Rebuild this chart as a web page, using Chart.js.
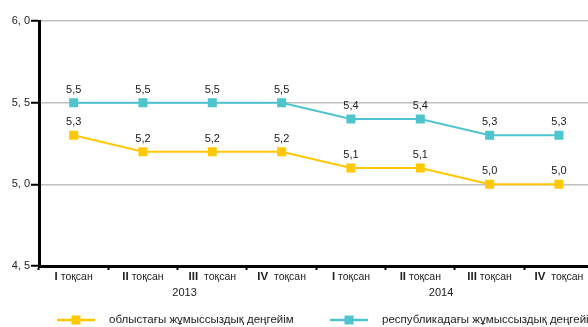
<!DOCTYPE html>
<html>
<head>
<meta charset="utf-8">
<script src="https://cdn.jsdelivr.net/npm/chart.js@4/dist/chart.umd.min.js"></script>
<style>
  html, body { margin: 0; padding: 0; background: #fff; }
  /* the plot runs a little past the right edge of the frame */
  #wrap { width: 588px; height: 327px; position: relative; overflow: hidden; }
  #c { display: block; }
</style>
</head>
<body>
<div id="wrap"><canvas id="c" width="600" height="327"></canvas></div>
<script>
// Quarters (roman numeral + word) and the year each block of four belongs to
const quarters = ['I тоқсан', 'II тоқсан', 'III  тоқсан', 'IV  тоқсан', 'I тоқсан', 'II тоқсан', 'III тоқсан', 'IV  тоқсан'];
const years = ['2013', '2014'];

// Unemployment rate, %
const regionRate = [5.3, 5.2, 5.2, 5.2, 5.1, 5.1, 5.0, 5.0];
const republicRate = [5.5, 5.5, 5.5, 5.5, 5.4, 5.4, 5.3, 5.3];

const seriesNames = ['облыстағы жұмыссыздық деңгейім', 'республикадағы жұмыссыздық деңгейі'];
const yTicks = [4.5, 5.0, 5.5, 6.0];

const YELLOW = '#FFC800';
const TEAL = '#4FC4CF';
const FONT = '"Liberation Sans", Arial, sans-serif';
const TEXT = '#222';

const fmt = v => v.toFixed(1).replace('.', ',');

// Value labels above each marker
const valueLabels = {
  id: 'valueLabels',
  afterDatasetsDraw(chart) {
    const ctx = chart.ctx;
    ctx.save();
    ctx.font = '11px ' + FONT;
    ctx.fillStyle = TEXT;
    ctx.textAlign = 'center';
    ctx.textBaseline = 'middle';
    chart.data.datasets.forEach((ds, i) => {
      chart.getDatasetMeta(i).data.forEach((pt, j) => {
        ctx.fillText(fmt(ds.data[j]), pt.x, pt.y - 13);
      });
    });
    ctx.restore();
  }
};

// Quarter labels with bold roman numerals, year labels and the legend
const bottomText = {
  id: 'bottomText',
  afterDraw(chart) {
    const ctx = chart.ctx;
    const xs = chart.scales.x;
    ctx.save();
    ctx.fillStyle = TEXT;
    ctx.textBaseline = 'middle';
    ctx.textAlign = 'left';
    const boldFont = 'bold 11.5px ' + FONT;
    const normFont = '10.5px ' + FONT;
    quarters.forEach((q, i) => {
      const k = q.indexOf(' ');
      const num = q.slice(0, k);
      const rest = q.slice(k);
      ctx.font = boldFont;
      const w1 = ctx.measureText(num).width;
      ctx.font = normFont;
      const w2 = ctx.measureText(rest).width;
      const cx = xs.getPixelForTick(i);
      const x0 = cx - (w1 + w2) / 2;
      ctx.font = boldFont;
      ctx.fillText(num, x0, xs.top + 11);
      ctx.font = normFont;
      ctx.fillText(rest, x0 + w1, xs.top + 11);
    });

    // years, under their groups of four quarters
    const yearPos = [1.6, 5.3];
    ctx.font = '11px ' + FONT;
    ctx.textAlign = 'center';
    years.forEach((y, i) => {
      ctx.fillText(y, xs.getPixelForValue(yearPos[i]), xs.top + 27);
    });

    // legend
    const items = [
      { color: YELLOW, x: 57, text: seriesNames[0] },
      { color: TEAL, x: 330, text: seriesNames[1] }
    ];
    const ly = 320;
    ctx.font = '11.5px ' + FONT;
    ctx.textAlign = 'left';
    items.forEach(it => {
      ctx.strokeStyle = it.color;
      ctx.lineWidth = 2.5;
      ctx.beginPath();
      ctx.moveTo(it.x, ly);
      ctx.lineTo(it.x + 38, ly);
      ctx.stroke();
      ctx.fillStyle = it.color;
      ctx.fillRect(it.x + 19 - 4.5, ly - 4.5, 9, 9);
      ctx.fillStyle = TEXT;
      ctx.fillText(it.text, it.x + 52, ly);
    });
    ctx.restore();
  }
};

new Chart(document.getElementById('c'), {
  type: 'line',
  data: {
    labels: quarters,
    datasets: [
      {
        label: seriesNames[0],
        data: regionRate,
        borderColor: YELLOW,
        backgroundColor: YELLOW,
        borderWidth: 2,
        pointStyle: 'rect',
        pointRadius: 6.4,
        pointHoverRadius: 6.4,
        pointBorderWidth: 0,
        tension: 0
      },
      {
        label: seriesNames[1],
        data: republicRate,
        borderColor: TEAL,
        backgroundColor: TEAL,
        borderWidth: 2,
        pointStyle: 'rect',
        pointRadius: 6.4,
        pointHoverRadius: 6.4,
        pointBorderWidth: 0,
        tension: 0
      }
    ]
  },
  options: {
    responsive: false,
    animation: false,
    events: [],
    layout: { padding: { top: 21, right: 0, bottom: 23, left: 0 } },
    plugins: {
      legend: { display: false },
      tooltip: { enabled: false }
    },
    scales: {
      x: {
        type: 'category',
        offset: true,
        grid: {
          offset: true,
          drawOnChartArea: false,
          drawTicks: true,
          tickLength: 4,
          tickColor: '#000',
          tickWidth: 2
        },
        border: { color: '#000', width: 3 },
        ticks: { display: false },
        afterFit(s) { s.height = 20; }
      },
      year: {
        type: 'category',
        position: 'bottom',
        labels: years,
        offset: true,
        grid: { display: false, drawTicks: false },
        border: { display: false },
        ticks: { display: false },
        afterFit(s) { s.height = 18; }
      },
      y: {
        min: 4.5,
        max: 6.0,
        afterBuildTicks(s) { s.ticks = yTicks.map(v => ({ value: v })); },
        grid: {
          color: '#C0C0C0',
          lineWidth: 1.5,
          drawTicks: true,
          tickLength: 8,
          tickColor: '#000',
          tickWidth: 2
        },
        border: { color: '#000', width: 3 },
        ticks: {
          padding: 1,
          color: TEXT,
          font: { family: FONT, size: 11 },
          callback: v => v.toFixed(1).replace('.', ', ')
        },
        afterFit(s) { s.width = 39; }
      }
    }
  },
  plugins: [valueLabels, bottomText]
});
</script>
</body>
</html>
